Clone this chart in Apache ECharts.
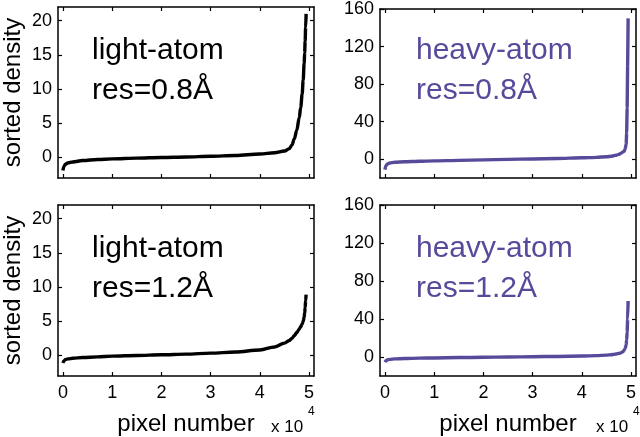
<!DOCTYPE html>
<html>
<head>
<meta charset="utf-8">
<script src="https://cdn.jsdelivr.net/npm/echarts@6/dist/echarts.min.js"></script>
<style>html,body{margin:0;padding:0;background:#fff}#c{width:640px;height:437px}</style>
</head>
<body>
<div id="c"></div>
<script>
// pixel index (shared by all four sorted curves)
const pixelIdx = [0, 200, 500, 1000, 2000, 4000, 7000, 10000, 15000, 20000, 25000, 30000, 35000, 40000, 43000, 45000, 46000, 46500, 47000, 47500, 48000, 48300, 48600, 48800, 49000, 49100, 49200, 49300, 49400];
// sorted density values
const light08 = [-1.9, -1.3, -1.0, -0.8, -0.65, -0.45, -0.3, -0.2, -0.1, 0, 0.08, 0.18, 0.3, 0.5, 0.7, 0.95, 1.3, 1.8, 2.7, 4.0, 5.8, 7.3, 9.3, 11.3, 13.8, 15.3, 17.0, 19.0, 21.0];
const heavy08 = [-11, -7, -5, -4, -3.3, -2.7, -2.2, -1.8, -1.2, -0.7, -0.2, 0.3, 0.8, 1.5, 2, 2.7, 3.2, 3.7, 4.3, 5.2, 6.5, 7.5, 8.5, 11, 16, 28, 55, 100, 150];
const light12 = [-1.1, -0.8, -0.6, -0.5, -0.4, -0.3, -0.2, -0.1, 0, 0.1, 0.2, 0.35, 0.5, 0.8, 1.25, 1.8, 2.2, 2.5, 2.9, 3.35, 3.85, 4.2, 4.6, 5.0, 5.6, 6.2, 7.0, 8.0, 8.9];
const heavy12 = [-5.5, -4, -3, -2.5, -2, -1.6, -1.2, -1, -0.6, -0.3, 0, 0.3, 0.6, 1, 1.4, 2, 2.4, 2.8, 3.2, 3.8, 4.5, 5.5, 7, 9, 13, 18, 26, 40, 59];
// tick values
const xTicks = [0, 10000, 20000, 30000, 40000, 50000];
const yTicksLight = [0, 5, 10, 15, 20];
const yTicksHeavy = [0, 40, 80, 120, 160];
// panel labels
const panelNames = [['light-atom', 'res=0.8Å'], ['heavy-atom', 'res=0.8Å'], ['light-atom', 'res=1.2Å'], ['heavy-atom', 'res=1.2Å']];

const FONT = '"Liberation Sans", Arial, Helvetica, sans-serif';
const BLACK = '#000';
const PURPLE = '#584a9b';

const grids = [
  {left: 55, top: 7, width: 259, height: 171},
  {left: 380, top: 7, width: 256, height: 171},
  {left: 55, top: 205, width: 259, height: 171},
  {left: 380, top: 205, width: 256, height: 171}
];
const yRange = [[-3, 22], [-20, 160], [-3, 22], [-20, 160]];
const yTicks = [yTicksLight, yTicksHeavy, yTicksLight, yTicksHeavy];
const seriesData = [light08, heavy08, light12, heavy12];
const colors = [BLACK, PURPLE, BLACK, PURPLE];
const smoothing = [0.35, 0.15, 0.35, 0.15];

const axisLine = {show: true, onZero: false, lineStyle: {color: '#000', width: 1.5}};
const xAxes = [], yAxes = [], series = [], graphic = [];

grids.forEach((g, i) => {
  const bottomRow = i >= 2;
  const leftCol = i % 2 === 0;
  xAxes.push({
    type: 'value', gridIndex: i, min: -1000, max: 51000, position: 'bottom',
    axisLine: axisLine,
    axisTick: {show: true, inside: true, length: 4, customValues: xTicks, lineStyle: {color: '#000', width: 1.2}},
    axisLabel: {show: bottomRow, customValues: xTicks, formatter: v => String(v / 10000), color: '#000', fontFamily: FONT, fontSize: 18, margin: 8},
    splitLine: {show: false},
    name: bottomRow ? 'pixel number' : '', nameLocation: 'middle', nameGap: 36,
    nameTextStyle: {color: '#000', fontFamily: FONT, fontSize: 24}
  });
  xAxes.push({
    type: 'value', gridIndex: i, min: -1000, max: 51000, position: 'top',
    axisLine: axisLine,
    axisTick: {show: true, inside: true, length: 4, customValues: xTicks, lineStyle: {color: '#000', width: 1.2}},
    axisLabel: {show: false}, splitLine: {show: false}
  });
  yAxes.push({
    type: 'value', gridIndex: i, min: yRange[i][0], max: yRange[i][1], position: 'left',
    axisLine: axisLine,
    axisTick: {show: true, inside: true, length: 4, customValues: yTicks[i], lineStyle: {color: '#000', width: 1.2}},
    axisLabel: {show: true, customValues: yTicks[i], color: '#000', fontFamily: FONT, fontSize: 18, margin: 6},
    splitLine: {show: false},
    name: leftCol ? 'sorted density' : '', nameLocation: 'middle', nameGap: 33, nameRotate: 90,
    nameTextStyle: {color: '#000', fontFamily: FONT, fontSize: 24}
  });
  yAxes.push({
    type: 'value', gridIndex: i, min: yRange[i][0], max: yRange[i][1], position: 'right',
    axisLine: axisLine,
    axisTick: {show: true, inside: true, length: 4, customValues: yTicks[i], lineStyle: {color: '#000', width: 1.2}},
    axisLabel: {show: false}, splitLine: {show: false}
  });
  series.push({
    type: 'line', xAxisIndex: i * 2, yAxisIndex: i * 2,
    data: pixelIdx.map((x, k) => [x, seriesData[i][k]]),
    showSymbol: false, smooth: smoothing[i], smoothMonotone: 'x',
    lineStyle: {color: colors[i], width: 3.4, cap: 'butt', join: 'round'}, itemStyle: {color: colors[i]},
    animation: false, silent: true
  });
  const tx = g.left + (leftCol ? 37 : 36);
  graphic.push({type: 'text', left: tx, top: g.top + 29, style: {text: panelNames[i][0], fill: colors[i], fontSize: 30, fontFamily: FONT}});
  graphic.push({type: 'text', left: tx, top: g.top + 69, style: {text: panelNames[i][1], fill: colors[i], fontSize: 30, fontFamily: FONT}});
  if (bottomRow) {
    graphic.push({type: 'text', left: g.left + 216, top: 419, style: {text: 'x 10', fill: '#000', fontSize: 17, fontFamily: FONT}});
    graphic.push({type: 'text', left: g.left + 253, top: 406, style: {text: '4', fill: '#000', fontSize: 12, fontFamily: FONT}});
  }
});

const chart = echarts.init(document.getElementById('c'), null, {renderer: 'canvas'});
chart.setOption({
  backgroundColor: '#fff',
  animation: false,
  grid: grids,
  xAxis: xAxes,
  yAxis: yAxes,
  series: series,
  graphic: graphic
});
</script>
</body>
</html>
